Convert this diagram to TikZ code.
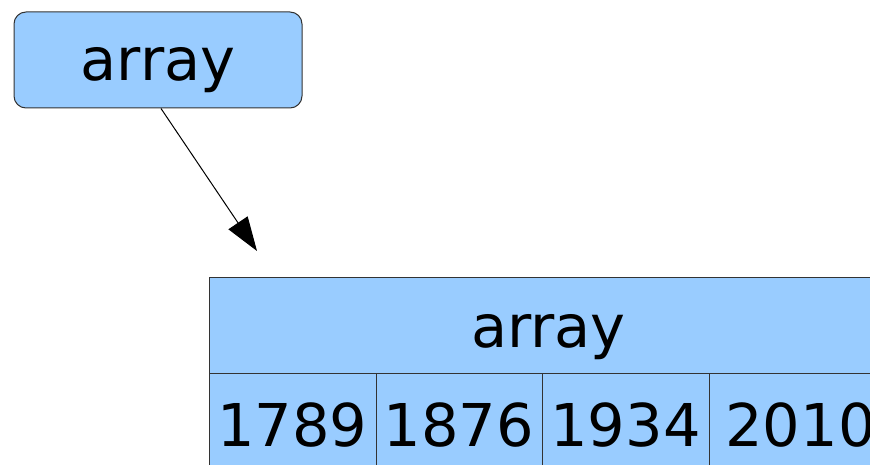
\documentclass[tikz,border=0pt]{standalone}
\usepackage{fontspec}
\setmainfont{DejaVu Sans}
\usetikzlibrary{arrows.meta}
\definecolor{cellblue}{HTML}{99CCFF}
\definecolor{edge}{HTML}{333333}
\tikzset{
  bigtext/.style={font=\fontsize{59}{70}\selectfont},
  refbox/.style={bigtext, draw=edge, fill=cellblue, line width=1pt,
    rounded corners=12pt, inner sep=0pt, anchor=base,
    minimum width=288pt, text height=69pt, text depth=27pt},
  headcell/.style={bigtext, draw=edge, fill=cellblue, line width=1pt,
    inner sep=0pt, anchor=base, minimum width=679pt,
    text height=70pt, text depth=26pt},
  datacell/.style={bigtext, draw=edge, fill=cellblue, line width=1pt,
    inner sep=0pt, anchor=base, text height=73pt, text depth=30pt},
  pointer/.style={draw=black, line width=1pt,
    -{Triangle[length=34pt,width=23pt]}}
}
\begin{document}
\begin{tikzpicture}[x=1pt, y=-1pt]
  \useasboundingbox (0,0) rectangle (870,465);
  \clip (0,0) rectangle (870,465);
  % the variable holding the reference
  \node[refbox] (var) at (158,81) {array};
  % the array object: header and element cells
  \node[headcell] (hdr) at (548.5,347) {array};
  \node[datacell, minimum width=167pt] (c1) at (292.5,446) {1789};
  \node[datacell, minimum width=166pt] (c2) at (459,446) {1876};
  \node[datacell, minimum width=167pt] (c3) at (625.5,446) {1934};
  \node[datacell, minimum width=183pt] (c4) at (800.5,446) {2010};
  % reference arrow
  \coordinate (tip) at (257,251);
  \draw[pointer] ([xshift=3pt]var.south) -- (tip);
\end{tikzpicture}
\end{document}
